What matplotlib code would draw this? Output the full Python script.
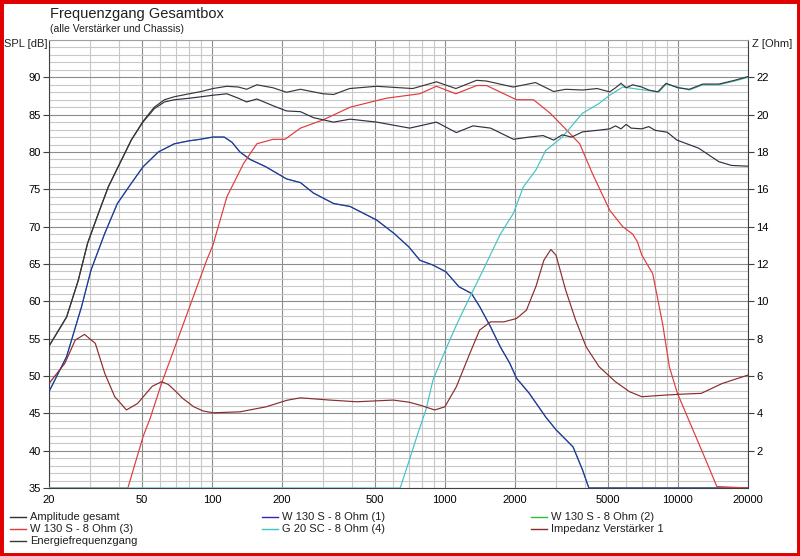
import matplotlib
matplotlib.use("Agg")
import matplotlib.pyplot as plt
from matplotlib.lines import Line2D
from matplotlib.patches import Rectangle
from matplotlib.ticker import FixedLocator, NullFormatter

plt.rcParams['font.family'] = ['Liberation Sans', 'DejaVu Sans']

# ---- data ----
xticks = [20, 50, 100, 200, 500, 1000, 2000, 5000, 10000, 20000]
xtick_labels = ["20", "50", "100", "200", "500", "1000", "2000", "5000", "10000", "20000"]
spl_ticks = [35, 40, 45, 50, 55, 60, 65, 70, 75, 80, 85, 90]
z_ticks = [2, 4, 6, 8, 10, 12, 14, 16, 18, 20, 22]

# Amplitude gesamt (summed response)
amp_f = [20, 23.8, 26.7, 29.3, 32.6, 35.9, 40.9, 45.1, 50.6, 56.6, 62.6, 69, 80, 90, 101, 116,
         130, 141, 156, 183, 209, 240, 273, 333, 392, 510, 706, 920, 1120, 1320, 1570, 1970,
         2300, 2640, 2930, 3190, 3500, 3900, 4500, 5100, 5400, 5700, 6000, 6300, 7000, 7500,
         8000, 9000, 9900, 12300, 15000, 17000, 20000]
amp_db = [54.0, 57.9, 62.8, 67.8, 71.8, 75.3, 78.9, 81.6, 84.0, 85.8, 86.7, 87.0, 87.2, 87.4,
          87.6, 87.8, 87.2, 86.7, 87.1, 86.2, 85.5, 85.4, 84.6, 84.0, 84.4, 84.0, 83.2, 84.0,
          82.6, 83.5, 83.2, 81.7, 82.0, 82.2, 81.6, 82.3, 82.0, 82.7, 82.9, 83.1, 83.5, 83.1,
          83.7, 83.2, 83.1, 83.4, 82.9, 82.65, 81.6, 80.5, 78.7, 78.2, 78.1]

# Energiefrequenzgang (power sum)
energy_f = [20, 23.8, 26.7, 29.3, 32.6, 35.9, 40.9, 45.1, 50.6, 56.6, 62.6, 69, 80, 90, 101,
            116, 130, 141, 156, 183, 209, 240, 300, 333, 390, 509, 728, 920, 1115, 1368, 1510,
            1965, 2450, 2930, 3300, 3900, 4500, 5100, 5400, 5700, 6000, 6400, 7000, 7500, 8200,
            8900, 10000, 11200, 12800, 15000, 17500, 20000]
energy_db = [54.0, 57.9, 62.8, 67.8, 71.8, 75.3, 78.9, 81.6, 84.1, 86.0, 87.0, 87.4, 87.8, 88.1,
             88.5, 88.8, 88.7, 88.4, 89.0, 88.6, 88.0, 88.4, 87.8, 87.7, 88.5, 88.8, 88.5, 89.4,
             88.5, 89.6, 89.5, 88.7, 89.3, 88.1, 88.4, 88.3, 88.5, 88.05, 88.6, 89.2, 88.6,
             89.0, 88.7, 88.3, 88.05, 89.2, 88.6, 88.4, 89.1, 89.1, 89.6, 90.1]

# W 130 S - 8 Ohm (1)
w1_f = [20, 23.8, 27.6, 30.3, 34.7, 39.3, 45.1, 50.6, 58.9, 69, 80, 89, 101, 113, 122, 132, 146,
        171, 209, 240, 273, 333, 392, 509, 605, 700, 781, 890, 1010, 1150, 1300, 1410, 1570,
        1730, 1900, 2030, 2300, 2710, 3000, 3550, 3900, 4150, 20000]
w1_db = [47.9, 52.6, 59.3, 64.2, 69.1, 73.1, 75.8, 78.0, 80.0, 81.1, 81.5, 81.7, 82.0, 82.0,
         81.3, 80.0, 79.0, 78.0, 76.4, 75.9, 74.5, 73.1, 72.7, 70.9, 69.1, 67.3, 65.5, 64.85,
         63.96, 61.95, 61.06, 59.3, 56.6, 53.9, 51.7, 49.7, 47.7, 44.5, 42.8, 40.5, 37.4, 35.0,
         35.0]

# W 130 S - 8 Ohm (2) (lies under curve (1))
w2_f = w1_f
w2_db = w1_db

# W 130 S - 8 Ohm (3)
w3_f = [20, 43.6, 50.7, 54.3, 60.8, 75.5, 95, 101, 116, 137, 156, 183, 206, 240, 300, 392, 560,
        780, 920, 1115, 1370, 1510, 2030, 2400, 2560, 2830, 3270, 3790, 4300, 5100, 5800, 6400,
        6700, 7000, 7800, 8600, 9200, 9950, 11600, 13200, 14700, 20000]
w3_db = [35.0, 35.0, 41.9, 44.3, 49.0, 57.0, 65.5, 67.5, 74.0, 78.5, 81.1, 81.7, 81.7, 83.2,
         84.3, 86.0, 87.2, 87.8, 88.8, 87.8, 88.9, 88.9, 87.0, 87.0, 86.3, 85.2, 83.2, 81.1,
         77.1, 72.2, 70.0, 69.0, 68.0, 66.2, 63.7, 57.0, 51.2, 47.7, 42.8, 38.7, 35.2, 35.0]

# G 20 SC - 8 Ohm (4)
g4_f = [20, 643, 700, 760, 830, 890, 1000, 1120, 1240, 1460, 1730, 1970, 2170, 2460, 2710,
        3190, 3900, 4590, 5100, 5800, 6800, 8300, 8900, 11200, 12800, 15000, 17500, 20000]
g4_db = [35.0, 35.0, 38.5, 42.0, 45.5, 49.5, 53.3, 56.8, 59.7, 64.2, 69.0, 71.8, 75.3, 77.6,
         80.2, 82.0, 85.2, 86.5, 87.6, 88.7, 88.4, 88.05, 89.1, 88.3, 89.0, 89.0, 89.5, 90.0]

# Impedanz Verstärker 1 (Ohm, right axis)
imp_f = [20, 23.4, 25.9, 28.4, 31.6, 34.7, 38.3, 43.0, 48.0, 51.5, 55.5, 60.8, 65, 69, 75, 83.6,
         92, 101.6, 132, 171, 210, 240, 321, 418, 600, 700, 781, 905, 1000, 1120, 1280, 1410,
         1570, 1790, 2030, 2240, 2460, 2660, 2850, 3000, 3300, 3640, 4040, 4590, 5400, 6200,
         7000, 8900, 10500, 12600, 15500, 20000]
imp_z = [5.6, 6.68, 7.92, 8.23, 7.75, 6.14, 4.89, 4.18, 4.53, 4.98, 5.45, 5.69, 5.55, 5.25, 4.8,
         4.35, 4.12, 4.03, 4.08, 4.35, 4.7, 4.83, 4.71, 4.62, 4.71, 4.6, 4.44, 4.18, 4.35, 5.42,
         7.21, 8.46, 8.9, 8.9, 9.08, 9.53, 10.8, 12.2, 12.78, 12.47, 10.6, 9.0, 7.56, 6.5, 5.69,
         5.16, 4.89, 4.98, 5.03, 5.07, 5.6, 6.05]

series = [
    ("Amplitude gesamt", amp_f, amp_db, "#303040"),
    ("W 130 S - 8 Ohm (1)", w1_f, w1_db, "#2a2ab8"),
    ("W 130 S - 8 Ohm (2)", w2_f, w2_db, "#30c030"),
    ("W 130 S - 8 Ohm (3)", w3_f, w3_db, "#e03a3a"),
    ("G 20 SC - 8 Ohm (4)", g4_f, g4_db, "#40c4c4"),
    ("Impedanz Verstärker 1", imp_f, imp_z, "#8a2c2c"),
    ("Energiefrequenzgang", energy_f, energy_db, "#383838"),
]

fig = plt.figure(figsize=(8.0, 5.56), dpi=100)
fig.patch.set_facecolor("white")
ax = fig.add_axes([49 / 800, 1 - 488 / 556, (748 - 49) / 800, (488 - 40) / 556])
ax.set_xscale("log")
ax.set_xlim(20, 20000)
ax.set_ylim(35, 95)

# grid
minor_x = []
for dec in [10, 100, 1000, 10000]:
    for m in range(2, 10):
        v = m * dec
        if 20 < v < 20000 and v not in xticks:
            minor_x.append(v)
ax.xaxis.set_major_locator(FixedLocator(xticks))
ax.xaxis.set_minor_locator(FixedLocator(minor_x))
ax.xaxis.set_minor_formatter(NullFormatter())
ax.set_xticklabels(xtick_labels)
ax.set_yticks(spl_ticks)
ax.yaxis.set_minor_locator(FixedLocator([v for v in range(35, 96) if v % 5 != 0 or v == 95]))
ax.grid(which="minor", color="#c8c8c8", linewidth=0.8)
ax.grid(which="major", color="#8c8c8c", linewidth=0.8)
ax.set_axisbelow(True)
ax.tick_params(which="minor", length=0)
ax.tick_params(which="major", length=4, width=0.8, color="#404040", labelsize=8, pad=2)
ax.tick_params(axis="x", which="major", length=0, pad=5)

for sp in ["left", "bottom"]:
    ax.spines[sp].set_color("#404040")
ax.spines["top"].set_color("#a0a0a0")
ax.spines["right"].set_color("#404040")

ax2 = ax.twinx()
ax2.set_ylim(0, 24)
ax2.set_yticks(z_ticks)
ax2.tick_params(length=4, width=0.8, color="#404040", labelsize=8, pad=2)
for sp in ax2.spines.values():
    sp.set_visible(False)

# draw curves (order: lower layers first)
draw_order = [2, 1, 3, 4, 0, 6]
for i in draw_order:
    name, f, v, c = series[i]
    ax.plot(f, v, color=c, linewidth=0.85, zorder=3)
name, f, v, c = series[5]
ax2.plot(f, v, color=c, linewidth=0.85, zorder=3)

# texts
fig.text(50 / 800, 1 - 14 / 556, "Frequenzgang Gesamtbox", fontsize=10.5, va="center", ha="left",
         color="#202020")
fig.text(50 / 800, 1 - 29 / 556, "(alle Verstärker und Chassis)", fontsize=7.5, va="center",
         ha="left", color="#202020")
fig.text(4 / 800, 1 - 44 / 556, "SPL [dB]", fontsize=8, va="center", ha="left", color="#202020")
fig.text(752 / 800, 1 - 44 / 556, "Z [Ohm]", fontsize=8, va="center", ha="left", color="#202020")

# legend (three columns, row-major)
col_x = [10, 262, 531]
row_y = [517, 529, 541]
for k, (name, f, v, c) in enumerate(series):
    r, cidx = divmod(k, 3)
    x0 = col_x[cidx]
    y0 = 1 - row_y[r] / 556
    fig.add_artist(Line2D([x0 / 800, (x0 + 16) / 800], [y0, y0], color=c, linewidth=1.0,
                          transform=fig.transFigure))
    fig.text((x0 + 20) / 800, y0, name, fontsize=8, va="center", ha="left", color="#202020")

fig.add_artist(Rectangle((0, 0), 1, 1, transform=fig.transFigure, fill=False,
                         edgecolor="#e00000", linewidth=5))

fig.savefig("out.png", dpi=100, facecolor="white")
